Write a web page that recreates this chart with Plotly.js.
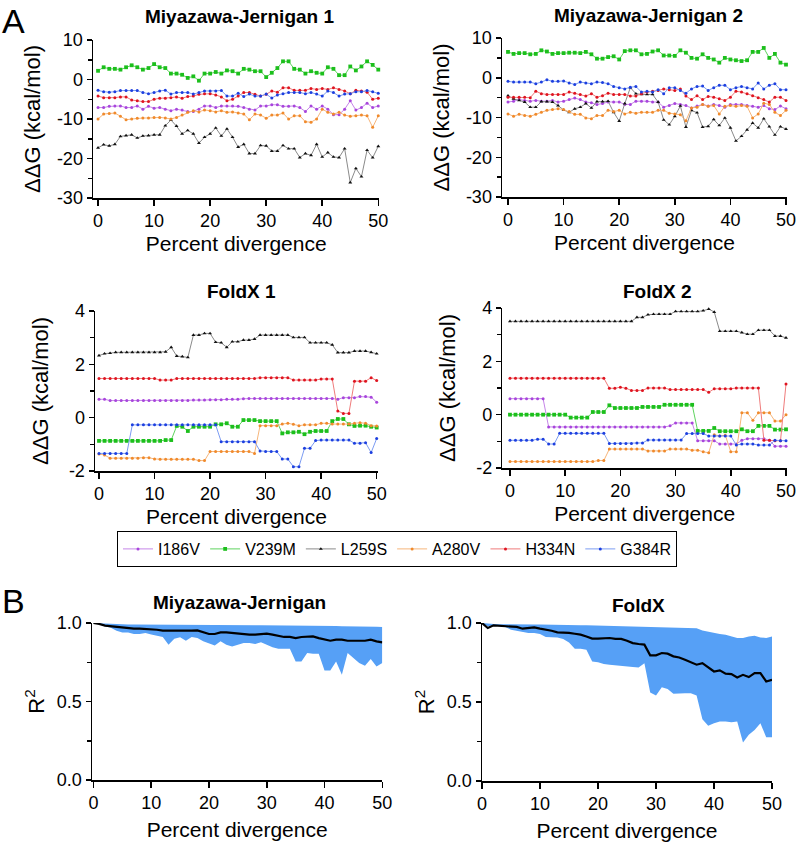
<!DOCTYPE html>
<html>
<head>
<meta charset="utf-8">
<script src="https://cdn.plot.ly/plotly-3.0.1.min.js"></script>
<style>html,body{margin:0;padding:0;background:#fff;}#chart{width:796px;height:848px;}</style>
</head>
<body>
<div id="chart"></div>
<script>
// ---------- DATA ----------
const pct = [0,1,2,3,4,5,6,7,8,9,10,11,12,13,14,15,16,17,18,19,20,21,22,23,24,25,26,27,28,29,30,31,32,33,34,35,36,37,38,39,40,41,42,43,44,45,46,47,48,49,50];
const mutations = ["I186V","V239M","L259S","A280V","H334N","G384R"];
const panelTitles = ["Miyazawa-Jernigan 1","Miyazawa-Jernigan 2","FoldX 1","FoldX 2","Miyazawa-Jernigan","FoldX"];
const xTickVals = [0,10,20,30,40,50];
const mjTickVals = [-30,-20,-10,0,10];
const mjTickText = ["-30","-20","-10","0","10"];
const fxTickVals = [-2,0,2,4];
const fxTickText = ["-2","0","2","4"];
const r2TickVals = [0,0.5,1];
const r2TickText = ["0.0","0.5","1.0"];

// Miyazawa-Jernigan 1
const mj1_I186V = [-7.1,-7.1,-6.8,-6.7,-6.7,-7.1,-7.1,-6.7,-7.5,-6.8,-7.25,-7.1,-7.5,-7.9,-7.5,-7.75,-8.1,-8.1,-7.5,-6.7,-6.7,-7.1,-6.7,-6.7,-6.7,-6.8,-7.1,-7.5,-7.75,-6.7,-6.7,-6.4,-6.4,-6.8,-6.8,-6.7,-7.1,-8.1,-6.7,-7.5,-6.7,-7.5,-8.9,-8.9,-7.5,-5.4,-7.75,-7.1,-6.0,-7.1,-6.7];
const mj1_V239M = [2.2,3.1,2.7,2.7,2.5,3.1,3.6,3.1,2.5,2.9,3.9,3.1,2.9,1.5,1.5,1.2,0.4,0.8,-0.3,1.5,1.5,1.9,1.5,2.3,2.1,1.5,2.7,2.5,2.1,2.1,0.6,1.7,2.9,4.6,4.6,2.7,2.5,1.5,2.1,1.7,1.5,3.1,2.7,1.1,1.1,3.3,2.3,3.3,4.6,3.7,2.5];
const mj1_L259S = [-17.3,-16.5,-16.8,-16.4,-14.4,-14.2,-14.0,-14.8,-14.3,-14.2,-14.0,-14.0,-11.7,-10.25,-11.8,-13.75,-12.9,-13.75,-16.1,-14.6,-13.75,-12.25,-14.3,-12.5,-14.6,-17.1,-16.4,-18.75,-18.75,-16.7,-16.8,-18.1,-18.1,-16.7,-17.5,-17.5,-19.75,-18.75,-19.2,-16.4,-19.6,-18.5,-19.6,-19.75,-17.5,-26.1,-22.5,-24.6,-17.9,-19.8,-16.9];
const mj1_A280V = [-10.0,-8.75,-8.6,-8.5,-9.3,-10.2,-10.0,-9.8,-9.75,-9.75,-9.6,-9.6,-9.75,-10.0,-9.6,-9.0,-8.3,-7.9,-8.2,-7.7,-7.9,-8.2,-7.9,-8.3,-8.2,-8.5,-8.75,-10.2,-8.75,-9.0,-9.8,-9.0,-9.0,-8.5,-10.0,-9.2,-9.2,-10.7,-10.8,-10.0,-7.5,-8.3,-8.75,-8.3,-9.0,-9.3,-9.2,-9.0,-9.2,-12.1,-9.2];
const mj1_H334N = [-4.2,-4.6,-4.6,-4.6,-4.4,-4.4,-5.2,-5.4,-5.6,-5.6,-5.0,-4.75,-4.75,-4.6,-4.4,-4.75,-4.3,-4.2,-3.75,-3.6,-3.6,-3.9,-4.4,-5.4,-5.0,-4.2,-3.3,-3.3,-3.75,-4.2,-3.75,-2.9,-3.2,-2.1,-2.1,-2.75,-2.75,-2.75,-2.3,-2.5,-2.3,-2.5,-2.1,-2.5,-2.9,-3.6,-2.75,-2.9,-3.2,-5.0,-4.75];
const mj1_G384R = [-2.75,-3.1,-3.2,-3.1,-2.8,-2.8,-2.8,-2.8,-3.3,-3.6,-3.3,-2.9,-2.7,-3.7,-3.3,-3.3,-3.3,-3.7,-3.3,-2.9,-2.9,-2.9,-2.8,-4.2,-4.2,-3.5,-4.3,-3.7,-4.2,-4.2,-3.7,-4.7,-3.9,-3.6,-3.3,-3.3,-3.3,-3.6,-3.3,-3.7,-4.2,-2.9,-3.3,-4.2,-3.7,-3.6,-3.1,-3.1,-2.8,-3.1,-3.5];

// Miyazawa-Jernigan 2
const mj2_I186V = [-6.1,-5.9,-5.5,-5.7,-5.9,-5.7,-5.9,-5.9,-5.7,-6.1,-5.9,-5.5,-5.1,-5.5,-6.1,-6.3,-6.7,-6.5,-6.1,-6.1,-6.1,-6.7,-6.7,-5.9,-5.9,-5.9,-6.1,-6.1,-7.4,-7.0,-6.5,-6.7,-7.0,-7.6,-7.1,-6.7,-7.1,-6.7,-7.0,-7.4,-6.7,-6.7,-6.7,-7.0,-7.2,-7.4,-7.0,-7.8,-8.0,-7.1,-7.8];
const mj2_V239M = [6.5,6.0,6.2,6.2,5.9,6.0,6.9,6.6,6.0,6.2,6.2,6.3,6.3,6.2,6.5,5.9,4.8,4.8,5.2,5.4,4.6,6.7,6.9,6.9,5.9,6.0,6.6,6.9,5.6,5.6,5.5,6.9,6.3,5.0,4.8,5.9,5.0,4.6,3.8,5.0,4.6,4.4,4.2,4.4,6.5,6.5,7.5,5.0,6.0,3.8,3.3];
const mj2_L259S = [-4.5,-5.3,-5.7,-6.1,-7.4,-7.4,-6.0,-6.0,-6.1,-7.0,-8.1,-8.7,-7.8,-7.4,-6.5,-7.6,-6.0,-6.0,-5.9,-8.7,-10.9,-6.5,-2.5,-4.0,-4.2,-4.2,-4.2,-6.1,-10.6,-11.8,-9.7,-7.1,-12.4,-8.2,-8.8,-12.4,-12.2,-10.5,-12.0,-10.1,-12.6,-15.9,-14.7,-13.1,-11.4,-12.6,-10.3,-12.3,-14.4,-12.3,-12.9];
const mj2_A280V = [-9.1,-9.7,-9.2,-9.5,-9.7,-9.2,-8.7,-8.2,-8.0,-7.8,-8.0,-8.5,-9.2,-9.2,-10.1,-10.3,-9.5,-9.5,-8.2,-8.5,-8.2,-9.1,-8.7,-8.9,-8.7,-8.7,-8.7,-8.2,-8.2,-8.9,-9.1,-9.3,-10.8,-7.6,-7.4,-6.7,-7.2,-7.0,-9.1,-7.2,-7.0,-7.2,-7.0,-7.2,-10.1,-9.1,-6.4,-6.7,-8.7,-9.5,-8.2];
const mj2_H334N = [-4.9,-4.9,-4.9,-4.9,-5.0,-3.4,-4.0,-4.2,-4.2,-4.2,-4.2,-3.6,-3.9,-4.2,-4.6,-4.0,-4.9,-4.5,-3.9,-4.2,-4.2,-4.2,-4.6,-4.6,-4.0,-3.6,-3.4,-3.2,-2.8,-3.0,-3.2,-2.8,-4.6,-5.5,-4.5,-5.5,-4.7,-4.9,-5.3,-5.7,-4.9,-3.4,-3.6,-4.0,-4.5,-5.0,-5.5,-6.1,-4.9,-4.9,-5.7];
const mj2_G384R = [-0.9,-1.1,-1.1,-1.1,-1.1,-1.5,-1.1,-0.5,-0.9,-0.9,-0.8,-1.3,-1.7,-1.1,-1.3,-1.5,-1.1,-1.2,-1.5,-2.2,-2.5,-2.8,-2.4,-2.2,-3.6,-3.4,-3.6,-3.0,-4.0,-2.5,-2.5,-3.2,-3.9,-2.8,-2.2,-2.1,-3.2,-2.5,-1.9,-1.9,-3.0,-2.5,-2.2,-2.5,-2.8,-1.3,-2.8,-1.9,-1.5,-3.0,-3.0];

// FoldX 1
const fx1_I186V = [0.69,0.69,0.64,0.64,0.64,0.64,0.64,0.64,0.64,0.64,0.64,0.64,0.64,0.64,0.64,0.64,0.64,0.66,0.66,0.66,0.67,0.67,0.67,0.69,0.69,0.69,0.71,0.72,0.72,0.72,0.72,0.72,0.72,0.72,0.72,0.72,0.72,0.72,0.72,0.72,0.72,0.72,0.72,0.69,0.75,0.75,0.75,0.79,0.79,0.77,0.58];
const fx1_V239M = [-0.87,-0.87,-0.87,-0.87,-0.87,-0.87,-0.87,-0.87,-0.87,-0.87,-0.87,-0.87,-0.84,-0.84,-0.31,-0.34,-0.5,-0.34,-0.34,-0.34,-0.34,-0.25,-0.25,-0.21,-0.34,-0.34,-0.09,-0.09,-0.09,-0.13,-0.13,-0.13,-0.13,-0.59,-0.55,-0.55,-0.53,-0.62,-0.53,-0.5,-0.5,-0.5,-0.13,-0.05,-0.05,-0.25,-0.31,-0.3,-0.3,-0.34,-0.37];
const fx1_L259S = [2.33,2.4,2.42,2.45,2.45,2.45,2.45,2.45,2.45,2.45,2.45,2.45,2.47,2.64,2.31,2.29,2.26,3.1,3.1,3.16,3.16,2.83,2.81,2.64,2.85,2.85,2.91,2.91,2.95,3.1,3.1,3.1,3.1,3.1,3.1,3.01,3.01,3.01,2.81,2.81,2.81,2.81,2.73,2.44,2.44,2.44,2.5,2.5,2.5,2.45,2.4];
const fx1_A280V = [-1.36,-1.4,-1.52,-1.52,-1.52,-1.52,-1.52,-1.52,-1.5,-1.5,-1.55,-1.56,-1.56,-1.56,-1.56,-1.56,-1.56,-1.56,-1.61,-1.61,-1.27,-1.27,-1.27,-1.27,-1.27,-1.27,-1.27,-1.27,-1.34,-0.3,-0.3,-0.3,-0.3,-0.24,-0.21,-0.25,-0.3,-0.27,-0.27,-0.27,-0.21,-0.21,-0.24,-0.24,-0.24,-0.24,-0.21,-0.19,-0.21,-0.3,-0.31];
const fx1_H334N = [1.47,1.47,1.47,1.47,1.47,1.47,1.47,1.47,1.47,1.47,1.47,1.41,1.41,1.41,1.47,1.47,1.47,1.47,1.47,1.47,1.47,1.47,1.47,1.47,1.47,1.47,1.47,1.47,1.47,1.5,1.5,1.5,1.5,1.5,1.5,1.41,1.41,1.41,1.41,1.41,1.45,1.45,1.45,0.25,0.16,0.16,1.37,1.37,1.37,1.5,1.39];
const fx1_G384R = [-1.34,-1.34,-1.34,-1.34,-1.34,-1.34,-0.27,-0.27,-0.27,-0.27,-0.27,-0.27,-0.27,-0.27,-0.27,-0.27,-0.27,-0.27,-0.27,-0.27,-0.27,-0.27,-0.9,-0.9,-0.9,-0.9,-0.9,-0.9,-0.9,-1.25,-1.27,-1.27,-1.27,-1.55,-1.55,-1.84,-1.84,-1.15,-1.15,-0.86,-0.84,-0.84,-0.84,-0.84,-0.84,-0.84,-0.96,-0.96,-0.94,-1.31,-0.78];

// FoldX 2
const fx2_I186V = [0.6,0.6,0.6,0.6,0.6,0.6,0.6,-0.46,-0.46,-0.46,-0.46,-0.46,-0.46,-0.46,-0.46,-0.46,-0.46,-0.46,-0.46,-0.46,-0.46,-0.46,-0.46,-0.46,-0.46,-0.46,-0.46,-0.46,-0.46,-0.42,-0.31,-0.31,-0.31,-0.31,-0.98,-0.98,-0.98,-0.98,-1.1,-1.1,-1.1,-1.1,-0.96,-0.9,-0.9,-0.9,-0.9,-0.96,-1.18,-1.18,-1.18];
const fx2_V239M = [0,0,0,0,0,0,0,0,0,0,0,-0.11,-0.11,-0.11,-0.11,0.1,0.1,0.1,0.35,0.25,0.25,0.25,0.25,0.25,0.29,0.29,0.29,0.29,0.37,0.37,0.37,0.37,0.37,0.37,-0.61,-0.61,-0.61,-0.5,-0.62,-0.62,-0.62,-0.62,-0.55,-0.62,-0.62,-0.42,-0.42,-0.42,-0.56,-0.56,-0.55];
const fx2_L259S = [3.5,3.5,3.5,3.5,3.5,3.5,3.5,3.5,3.5,3.5,3.5,3.5,3.5,3.5,3.5,3.5,3.5,3.5,3.5,3.5,3.5,3.5,3.5,3.65,3.65,3.75,3.77,3.77,3.77,3.77,3.87,3.87,3.87,3.87,3.87,3.9,3.96,3.85,3.13,3.13,3.13,3.13,3.08,3.02,3.02,3.17,3.17,3.17,2.95,2.95,2.88];
const fx2_A280V = [-1.76,-1.76,-1.76,-1.76,-1.76,-1.76,-1.76,-1.76,-1.76,-1.76,-1.76,-1.76,-1.76,-1.76,-1.76,-1.76,-1.72,-1.72,-1.29,-1.29,-1.29,-1.29,-1.29,-1.29,-1.29,-1.36,-1.36,-1.36,-1.36,-1.29,-1.29,-1.29,-1.29,-1.33,-1.33,-1.39,-1.43,-0.75,-0.8,-0.77,-1.39,-1.39,0.07,0.07,-0.21,0.07,0.07,0.07,-0.24,-0.24,0];
const fx2_H334N = [1.37,1.37,1.37,1.37,1.37,1.37,1.37,1.37,1.37,1.37,1.37,1.37,1.37,1.37,1.37,1.37,1.37,1.37,0.99,0.99,1.03,0.99,0.91,0.91,0.91,1.0,1.0,1.0,1.0,0.94,0.94,0.94,0.94,0.94,0.94,0.94,0.84,0.97,0.97,0.97,0.97,1.0,1.0,1.0,1.0,1.0,-0.96,-0.96,-0.98,-0.98,1.15];
const fx2_G384R = [-0.96,-0.96,-0.96,-0.96,-0.96,-0.92,-0.92,-1.1,-1.1,-0.7,-0.7,-0.7,-0.7,-0.7,-0.7,-0.7,-0.7,-0.7,-1.08,-1.08,-1.08,-1.08,-1.08,-1.06,-1.06,-0.95,-0.95,-0.95,-0.95,-0.95,-0.95,-0.95,-0.71,-0.71,-0.71,-0.71,-0.8,-0.8,-0.8,-0.8,-0.8,-1.14,-1.1,-1.1,-1.1,-1.14,-1.14,-1.14,-0.96,-0.98,-0.98];

// Panel B: R^2 mean and range
const mjMean  = [1.0,0.994,0.983,0.979,0.972,0.968,0.968,0.964,0.964,0.962,0.957,0.957,0.951,0.951,0.951,0.947,0.947,0.951,0.953,0.943,0.93,0.93,0.94,0.94,0.936,0.936,0.932,0.926,0.926,0.93,0.932,0.926,0.919,0.911,0.911,0.904,0.911,0.915,0.915,0.904,0.894,0.887,0.894,0.894,0.887,0.889,0.887,0.887,0.894,0.883,0.877];
const mjUpper = [1.0,0.998,0.995,0.993,0.992,0.991,0.99,0.99,0.99,0.99,0.99,0.99,0.99,0.99,0.99,0.99,0.99,0.99,0.99,0.989,0.988,0.988,0.988,0.987,0.987,0.987,0.986,0.986,0.986,0.985,0.985,0.985,0.985,0.985,0.985,0.984,0.984,0.984,0.983,0.983,0.982,0.982,0.981,0.98,0.98,0.979,0.978,0.977,0.977,0.976,0.975];
const mjLower = [1.0,0.99,0.98,0.97,0.951,0.94,0.94,0.93,0.93,0.936,0.926,0.919,0.911,0.862,0.9,0.909,0.887,0.911,0.904,0.883,0.872,0.857,0.883,0.862,0.851,0.862,0.872,0.872,0.866,0.877,0.862,0.845,0.836,0.836,0.836,0.755,0.755,0.809,0.804,0.804,0.698,0.698,0.755,0.67,0.809,0.777,0.745,0.728,0.77,0.723,0.745];
const fxMean  = [1.0,0.968,0.985,0.983,0.983,0.979,0.975,0.964,0.968,0.972,0.964,0.958,0.951,0.941,0.941,0.937,0.932,0.926,0.915,0.901,0.901,0.905,0.905,0.899,0.899,0.888,0.873,0.867,0.863,0.795,0.795,0.81,0.806,0.789,0.782,0.767,0.751,0.736,0.746,0.719,0.693,0.7,0.679,0.677,0.655,0.672,0.658,0.683,0.683,0.63,0.64];
const fxUpper = [1.0,0.995,0.993,0.992,0.991,0.99,0.99,0.99,0.99,0.99,0.99,0.99,0.99,0.989,0.989,0.988,0.987,0.986,0.985,0.984,0.983,0.982,0.981,0.98,0.978,0.975,0.975,0.974,0.973,0.972,0.972,0.971,0.97,0.97,0.969,0.968,0.968,0.966,0.953,0.945,0.937,0.93,0.926,0.915,0.905,0.905,0.915,0.92,0.909,0.905,0.915];
const fxLower = [1.0,0.98,0.985,0.98,0.975,0.958,0.951,0.947,0.937,0.937,0.93,0.911,0.911,0.909,0.899,0.877,0.837,0.837,0.831,0.757,0.751,0.74,0.736,0.732,0.725,0.725,0.721,0.719,0.746,0.56,0.541,0.594,0.582,0.552,0.556,0.556,0.556,0.541,0.391,0.349,0.366,0.376,0.376,0.372,0.376,0.243,0.292,0.323,0.366,0.277,0.277];

// ---------- STYLE ----------
const styles = {
  I186V: {line:'#c585e8', marker:'#a845dc', symbol:'circle', size:3},
  V239M: {line:'#5fd35f', marker:'#1cbf1c', symbol:'square', size:3.8},
  L259S: {line:'#8a8a8a', marker:'#111111', symbol:'triangle-up', size:3.5},
  A280V: {line:'#f6b57a', marker:'#f08a2c', symbol:'circle', size:3},
  H334N: {line:'#ef7b7b', marker:'#df1420', symbol:'circle', size:3},
  G384R: {line:'#7c9cf2', marker:'#1d3fdf', symbol:'circle', size:3}
};
const panelsA = [
  {xa:'x',  ya:'y',  data:[mj1_I186V,mj1_V239M,mj1_L259S,mj1_A280V,mj1_H334N,mj1_G384R]},
  {xa:'x2', ya:'y2', data:[mj2_I186V,mj2_V239M,mj2_L259S,mj2_A280V,mj2_H334N,mj2_G384R]},
  {xa:'x3', ya:'y3', data:[fx1_I186V,fx1_V239M,fx1_L259S,fx1_A280V,fx1_H334N,fx1_G384R]},
  {xa:'x4', ya:'y4', data:[fx2_I186V,fx2_V239M,fx2_L259S,fx2_A280V,fx2_H334N,fx2_G384R]}
];

const traces = [];
panelsA.forEach((p, pi) => {
  mutations.forEach((m, mi) => {
    const s = styles[m];
    traces.push({
      type:'scatter', mode:'lines+markers', x:pct, y:p.data[mi], xaxis:p.xa, yaxis:p.ya,
      name:m, legendgroup:m, showlegend: pi === 0,
      line:{color:s.line, width:1},
      marker:{color:s.marker, symbol:s.symbol, size:s.size, line:{width:0}},
      cliponaxis:false
    });
  });
});

const fillColor = '#56a0f6';
[[mjLower,mjUpper,mjMean,'x5','y5'],[fxLower,fxUpper,fxMean,'x6','y6']].forEach(b => {
  traces.push({type:'scatter', mode:'lines', x:pct, y:b[0], xaxis:b[3], yaxis:b[4], line:{width:0, color:fillColor}, showlegend:false, hoverinfo:'skip'});
  traces.push({type:'scatter', mode:'lines', x:pct, y:b[1], xaxis:b[3], yaxis:b[4], line:{width:0, color:fillColor}, fill:'tonexty', fillcolor:fillColor, showlegend:false, hoverinfo:'skip'});
  traces.push({type:'scatter', mode:'lines', x:pct, y:b[2], xaxis:b[3], yaxis:b[4], line:{width:2.2, color:'#000'}, showlegend:false});
});

// ---------- LAYOUT ----------
const W = 796, H = 848;
const FONT = 'Liberation Sans, Arial, sans-serif';
function dx(a,b){ return [a/W, b/W]; }
function dy(top,bottom){ return [1-bottom/H, 1-top/H]; }

function xax(dom, rng, anchor, so){
  return {domain:dom, range:rng, anchor:anchor, tickvals:xTickVals, ticktext:xTickVals.map(String),
    showline:true, linecolor:'#000', linewidth:1.5, ticks:'outside', ticklen:6, tickwidth:1.5, tickcolor:'#000',
    showgrid:false, zeroline:false, ticklabeloverflow:'allow', tickfont:{family:FONT, size:18, color:'#000'},
    title:{text:'Percent divergence', font:{family:FONT, size:21, color:'#000'}, standoff:so}};
}
function yax(dom, rng, anchor, tv, tt, minorD, title, so){
  return {domain:dom, range:rng, anchor:anchor, tickvals:tv, ticktext:tt,
    showline:true, linecolor:'#000', linewidth:1.5, ticks:'outside', ticklen:5, tickwidth:1.5, tickcolor:'#000',
    minor:{dtick:minorD, ticks:'outside', ticklen:4, tickwidth:1.5, tickcolor:'#000', showgrid:false},
    showgrid:false, zeroline:false, ticklabeloverflow:'allow', tickfont:{family:FONT, size:18, color:'#000'},
    title:{text:title, font:{family:FONT, size:22, color:'#000'}, standoff:so}};
}
const ddg = 'ΔΔG (kcal/mol)';
function ann(text, x, y, size){
  return {text:text, x:x/W, y:1-y/H, xref:'paper', yref:'paper', xanchor:'center', yanchor:'middle', showarrow:false, font:{family:FONT, size:size, color:'#000'}};
}
const layout = {
  width:W, height:H, margin:{l:0,r:0,t:0,b:0}, paper_bgcolor:'#fff', plot_bgcolor:'rgba(0,0,0,0)',
  font:{family:FONT, color:'#000'},
  xaxis:  xax(dx(93,379.4),  [-0.9,50.2],  'y', 6),
  yaxis:  yax(dy(40,198),    [-30,10], 'x',  mjTickVals, mjTickText, 5, ddg, 10),
  xaxis2: xax(dx(502,787),   [-1.08,50.18], 'y2', 6),
  yaxis2: yax(dy(38,197),    [-30,10], 'x2', mjTickVals, mjTickText, 5, ddg, 10),
  xaxis3: xax(dx(95,377.8),  [-0.72,50.2], 'y3', 6),
  yaxis3: yax(dy(311,471),   [-2,4],   'x3', fxTickVals, fxTickText, 1, ddg, 14),
  xaxis4: xax(dx(502.3,787), [-1.39,50.18], 'y4', 6),
  yaxis4: yax(dy(308,468),   [-2,4],   'x4', fxTickVals, fxTickText, 1, ddg, 14),
  xaxis5: xax(dx(92,382.3),  [-0.25,50], 'y5', 10),
  yaxis5: yax(dy(623,780),   [0,1],    'x5', r2TickVals, r2TickText, 0.25, 'R<sup>2</sup>', 6),
  xaxis6: xax(dx(482,772),   [0,50],   'y6', 10),
  yaxis6: yax(dy(623,781),   [0,1],    'x6', r2TickVals, r2TickText, 0.25, 'R<sup>2</sup>', 6),
  showlegend:true,
  legend:{orientation:'h', x:397/W, xanchor:'center', y:1-531/H, yanchor:'top',
    bordercolor:'#000', borderwidth:1, bgcolor:'#fff', font:{family:FONT, size:16, color:'#000'},
    itemwidth:30, tracegroupgap:0, traceorder:'normal'},
  annotations:[
    ann('A', 13, 21, 34),
    ann('B', 13, 601, 34),
    ann('<b>'+panelTitles[0]+'</b>', 240, 17, 19),
    ann('<b>'+panelTitles[1]+'</b>', 648, 16, 19),
    ann('<b>'+panelTitles[2]+'</b>', 241, 291, 19),
    ann('<b>'+panelTitles[3]+'</b>', 657, 291, 19),
    ann('<b>'+panelTitles[4]+'</b>', 240, 602, 19),
    ann('<b>'+panelTitles[5]+'</b>', 638, 605, 19)
  ]
};

Plotly.newPlot('chart', traces, layout, {displayModeBar:false, staticPlot:true});
</script>
</body>
</html>
